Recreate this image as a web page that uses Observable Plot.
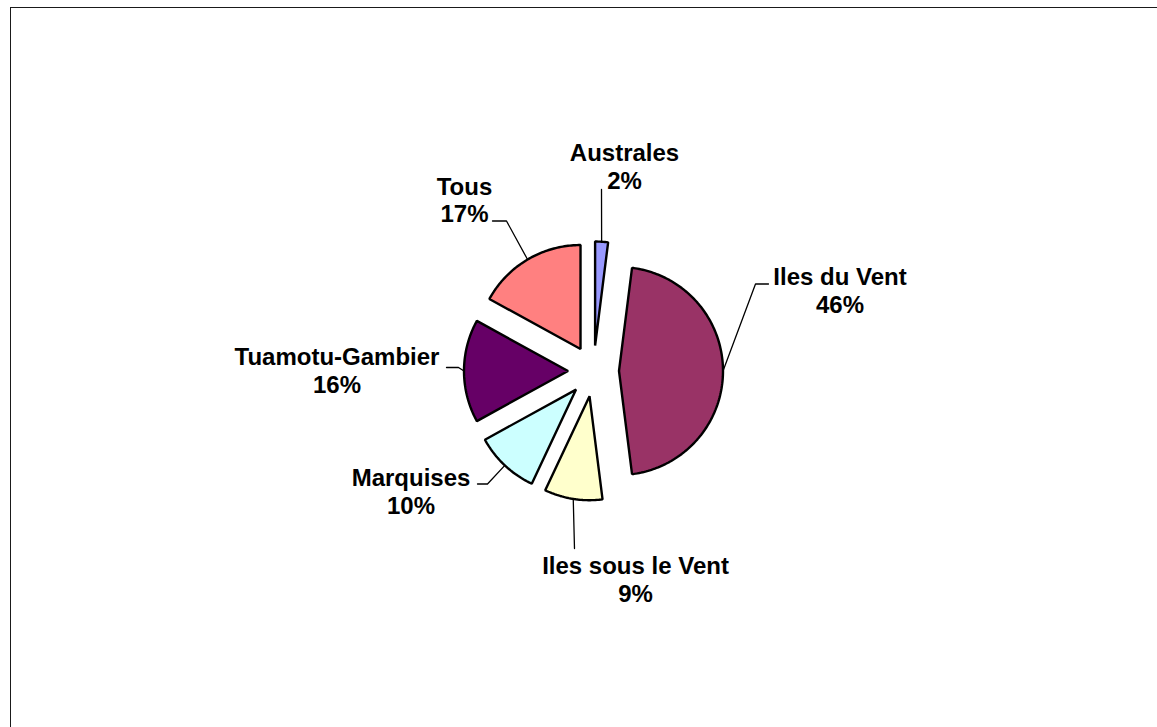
<!DOCTYPE html>
<html><head><meta charset="utf-8">
<script src="https://cdn.jsdelivr.net/npm/d3@7"></script>
<script src="https://cdn.jsdelivr.net/npm/@observablehq/plot@0.6"></script>
<style>
html,body{margin:0;padding:0;background:#fff;}
#wrap{position:relative;width:1157px;height:727px;overflow:hidden;}
#frame{position:absolute;left:10px;top:7px;width:1200px;height:800px;border-left:1.5px solid #1a1a1a;border-top:1.5px solid #1a1a1a;}
#chart{position:absolute;left:0;top:0;}
#chart svg{display:block;background:transparent !important;}
</style></head><body>
<div id="wrap"><div id="frame"></div><div id="chart"></div></div>
<script>
// ---- data ----
const regions = ["Australes", "Iles du Vent", "Iles sous le Vent", "Marquises", "Tuamotu-Gambier", "Tous"];
const shares = [2, 46, 9, 10, 16, 17];
const sliceColors = ["#9999FF", "#993366", "#FFFFCC", "#CCFFFF", "#660066", "#FF8080"];

// ---- layout ----
const W = 1157, H = 727, CX = 593, CY = 370.5, R = 104, EXPLODE = 25.5;
const FONT = "'Liberation Sans', Arial, Helvetica, sans-serif";
const labelPos = [[624, 165.4], [839.5, 289.8], [635, 578.7], [410.5, 490.8], [336.5, 369.8], [464, 199]];
const leaderStart = [
  [[601, 189]],
  [[768, 283.5], [755, 283.5]],
  [[574, 548]],
  [[477, 483.5], [487, 483.5]],
  [[446, 367], [458, 367]],
  [[492, 220.5], [506, 220.5]]
];

const arcs = d3.pie().sort(null).value(d => d)(shares);

const slicePts = [];
const leaderPts = [];
const labels = [];
arcs.forEach((a, i) => {
  const mid = (a.startAngle + a.endAngle) / 2;
  const ax = CX + EXPLODE * Math.sin(mid), ay = CY - EXPLODE * Math.cos(mid);
  slicePts.push({name: regions[i], x: ax, y: ay});
  const n = Math.max(2, Math.ceil((a.endAngle - a.startAngle) / (Math.PI / 180)));
  for (let k = 0; k <= n; k++) {
    const t = a.startAngle + (a.endAngle - a.startAngle) * k / n;
    slicePts.push({name: regions[i], x: ax + R * Math.sin(t), y: ay - R * Math.cos(t)});
  }
  for (const p of leaderStart[i]) leaderPts.push({name: regions[i], x: p[0], y: p[1]});
  leaderPts.push({name: regions[i], x: ax + R * Math.sin(mid), y: ay - R * Math.cos(mid)});
  labels.push({name: regions[i], x: labelPos[i][0], y: labelPos[i][1], text: regions[i] + "\n" + shares[i] + "%"});
});

const chart = Plot.plot({
  width: W, height: H, margin: 0,
  x: {domain: [0, W], axis: null},
  y: {domain: [0, H], reverse: true, axis: null},
  color: {domain: regions, range: sliceColors},
  style: {background: "transparent"},
  marks: [
    Plot.line(leaderPts, {x: "x", y: "y", z: "name", stroke: "black", strokeWidth: 1.3, curve: "linear"}),
    ...regions.map((r, i) => Plot.line(slicePts.filter(d => d.name === r), {
      x: "x", y: "y", curve: "linear-closed", fill: sliceColors[i], stroke: "black", strokeWidth: 2.4, strokeLinejoin: "miter"
    })),
    Plot.text(labels, {x: "x", y: "y", text: "text", fontSize: 24, fontWeight: "bold", fontFamily: FONT, lineHeight: 1.15, fill: "black"})
  ]
});
document.getElementById("chart").appendChild(chart);
</script>
</body></html>
